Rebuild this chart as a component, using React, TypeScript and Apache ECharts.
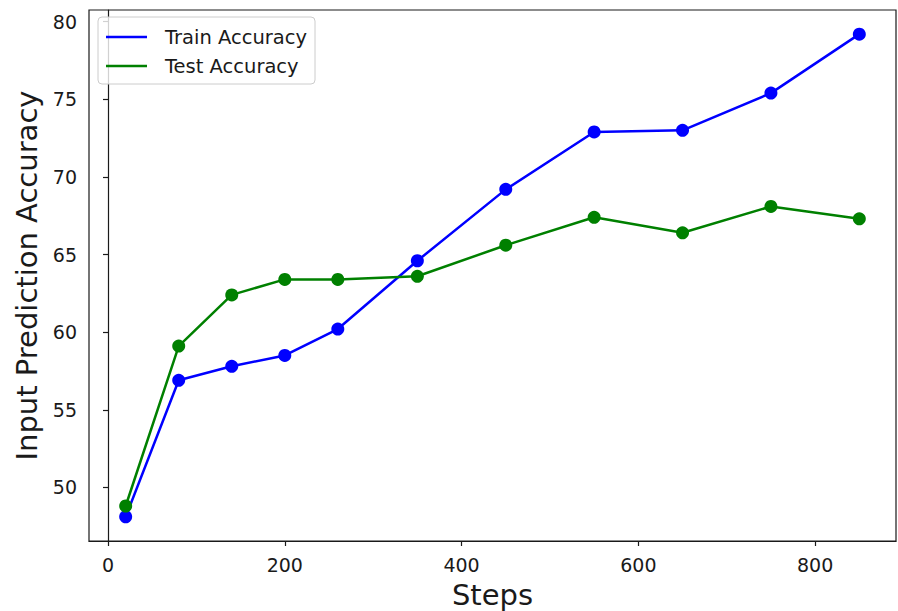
import React, { useEffect, useRef } from "react";
import * as echarts from "echarts";

// Training steps at which accuracy was measured
const steps = [20, 80, 140, 200, 260, 350, 450, 550, 650, 750, 850];
// Accuracy (%) on the training split
const trainAccuracy = [48.1, 56.9, 57.8, 58.5, 60.2, 64.6, 69.2, 72.9, 73.0, 75.4, 79.2];
// Accuracy (%) on the held-out split
const testAccuracy = [48.8, 59.1, 62.4, 63.4, 63.4, 63.6, 65.6, 67.4, 66.4, 68.1, 67.3];
// Tick positions
const xTicks = [0, 200, 400, 600, 800];
const yTicks = [50, 55, 60, 65, 70, 75, 80];

const FONT = "DejaVu Sans";
const INK = "#1a1a1a";

function pad(lo: number, hi: number, frac = 0.05): [number, number] {
  const d = (hi - lo) * frac;
  return [lo - d, hi + d];
}

export default function App() {
  const ref = useRef<HTMLDivElement>(null);

  useEffect(() => {
    if (!ref.current) return;
    const chart = echarts.init(ref.current, null, { renderer: "svg" });

    const [xMin, xMax] = pad(Math.min(...steps), Math.max(...steps));
    const allY = [...trainAccuracy, ...testAccuracy];
    const [yMin, yMax] = pad(Math.min(...allY), Math.max(...allY));

    const pairs = (ys: number[]) => steps.map((s, i) => [s, ys[i]]);

    chart.setOption({
      animation: false,
      backgroundColor: "#ffffff",
      textStyle: { fontFamily: FONT },
      grid: {
        left: 89,
        right: 2,
        top: 10,
        bottom: 70,
        outerBoundsMode: "none",
        containLabel: false,
        show: true,
        borderColor: INK,
        borderWidth: 1.2,
        backgroundColor: "transparent",
      },
      legend: {
        orient: "vertical",
        left: 98,
        top: 17,
        icon: "rect",
        itemWidth: 41,
        itemHeight: 2.5,
        itemGap: 7,
        padding: [9, 8, 7, 8],
        borderColor: "#cccccc",
        borderWidth: 1,
        borderRadius: 4,
        backgroundColor: "rgba(255,255,255,0.8)",
        textStyle: {
          fontFamily: FONT,
          fontSize: 19.5,
          color: INK,
          lineHeight: 22,
          padding: [0, 0, 0, 13],
        },
        data: ["Train Accuracy", "Test Accuracy"],
      },
      xAxis: {
        type: "value",
        min: xMin,
        max: xMax,
        name: "Steps",
        nameLocation: "middle",
        nameGap: 39,
        nameTextStyle: { fontFamily: FONT, fontSize: 29, color: INK },
        splitLine: { show: false },
        axisLine: { show: true, lineStyle: { color: INK, width: 1.2 } },
        axisTick: {
          show: true,
          inside: false,
          length: 5,
          customValues: xTicks,
          lineStyle: { color: INK, width: 1.2 },
        },
        axisLabel: {
          customValues: xTicks,
          margin: 14,
          fontFamily: FONT,
          fontSize: 19,
          color: INK,
        },
      },
      yAxis: {
        type: "value",
        min: yMin,
        max: yMax,
        name: "Input Prediction Accuracy",
        nameLocation: "middle",
        nameGap: 44,
        nameTextStyle: { fontFamily: FONT, fontSize: 29, color: INK },
        splitLine: { show: false },
        axisLine: { show: true, lineStyle: { color: INK, width: 1.2 } },
        axisTick: {
          show: true,
          inside: false,
          length: 5,
          customValues: yTicks,
          lineStyle: { color: INK, width: 1.2 },
        },
        axisLabel: {
          customValues: yTicks,
          margin: 12,
          fontFamily: FONT,
          fontSize: 19,
          color: INK,
        },
      },
      series: [
        {
          name: "Train Accuracy",
          type: "line",
          data: pairs(trainAccuracy),
          symbol: "circle",
          symbolSize: 13,
          showAllSymbol: true,
          itemStyle: { color: "#0000ff" },
          lineStyle: { color: "#0000ff", width: 2.5 },
          z: 3,
        },
        {
          name: "Test Accuracy",
          type: "line",
          data: pairs(testAccuracy),
          symbol: "circle",
          symbolSize: 13,
          showAllSymbol: true,
          itemStyle: { color: "#008000" },
          lineStyle: { color: "#008000", width: 2.5 },
          z: 4,
        },
      ],
    });

    return () => chart.dispose();
  }, []);

  return (
    <div
      ref={ref}
      style={{ position: "fixed", left: 0, top: 0, width: 898, height: 611 }}
    />
  );
}
